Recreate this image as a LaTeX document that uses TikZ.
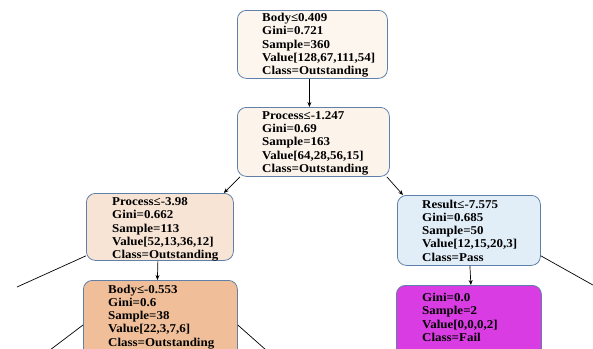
\documentclass[tikz,border=0pt]{standalone}
\usepackage{fontspec}
\setmainfont[FakeStretch=1.08]{Liberation Serif}
\usetikzlibrary{arrows.meta}
\definecolor{bordc}{HTML}{5F80A8}
\definecolor{cA}{HTML}{FDF6EF}
\definecolor{cB}{HTML}{FCF3EB}
\definecolor{cC}{HTML}{F8E4D5}
\definecolor{cD}{HTML}{F0BF9A}
\definecolor{cE}{HTML}{E1EEF8}
\definecolor{cF}{HTML}{D93CE2}
\begin{document}
\begin{tikzpicture}[x=1pt,y=-1pt,
  box/.style={draw=bordc, line width=0.8pt, rounded corners=9pt, inner sep=0pt, anchor=north west},
  txt/.style={anchor=north west, align=left, inner sep=0pt, font=\bfseries\fontsize{12}{13.3}\selectfont},
  arr/.style={-{Stealth[length=5pt,width=4pt]}, line width=0.7pt},
  ln/.style={line width=0.7pt}]
\clip (0,0) rectangle (593,348);
% boxes
\node[box, fill=cA, minimum width=150pt, minimum height=68pt] (n1) at (237,10) {};
\node[box, fill=cB, minimum width=152pt, minimum height=69pt] (n2) at (237,107) {};
\node[box, fill=cC, minimum width=147pt, minimum height=67pt] (nl) at (86,193) {};
\node[box, fill=cD, minimum width=154pt, minimum height=80pt] (nb) at (83,280) {};
\node[box, fill=cE, minimum width=143pt, minimum height=70pt] (nr) at (397,195) {};
\node[box, fill=cF, minimum width=145pt, minimum height=75pt] (nf) at (396,285) {};
% texts
\node[txt] (t1) at (262,13) {Body≤0.409\\Gini=0.721\\Sample=360\\Value[128,67,111,54]\\Class=Outstanding};
\node[txt] (t2) at (262,111) {Process≤-1.247\\Gini=0.69\\Sample=163\\Value[64,28,56,15]\\Class=Outstanding};
\node[txt] (tl) at (112,197.5) {Process≤-3.98\\Gini=0.662\\Sample=113\\Value[52,13,36,12]\\Class=Outstanding};
\node[txt] (tb) at (108,284.5) {Body≤-0.553\\Gini=0.6\\Sample=38\\Value[22,3,7,6]\\Class=Outstanding};
\node[txt] (tr) at (422,199.5) {Result≤-7.575\\Gini=0.685\\Sample=50\\Value[12,15,20,3]\\Class=Pass};
\node[txt] (tf) at (422,293) {Gini=0.0\\Sample=2\\Value[0,0,0,2]\\Class=Fail};
% free ends
\coordinate (e1) at (17,287);
\coordinate (e2) at (50,350);
\coordinate (e3) at (266,350);
\coordinate (e4) at (600,289);
% connectors
\draw[arr] ([xshift=-3pt]n1.south) -- ([xshift=-4pt]n2.north);
\draw[arr] ([xshift=3pt]n2.south west) -- ([xshift=-10pt]nl.north east);
\draw[arr] ([xshift=-3pt]n2.south east) -- ([xshift=6pt]nr.north west);
\draw[arr] ([xshift=-2pt]nl.south) -- ([xshift=-3pt]nb.north);
\draw[arr] ([xshift=1pt]nr.south) -- ([xshift=2pt]nf.north);
\draw[ln] ([yshift=5pt]nl.south west) -- (e1);
\draw[ln] ([yshift=-45pt]nb.north west) -- (e2);
\draw[ln] ([yshift=-45pt]nb.north east) -- (e3);
\draw[ln] ([yshift=10pt]nr.south east) -- (e4);
\end{tikzpicture}
\end{document}
